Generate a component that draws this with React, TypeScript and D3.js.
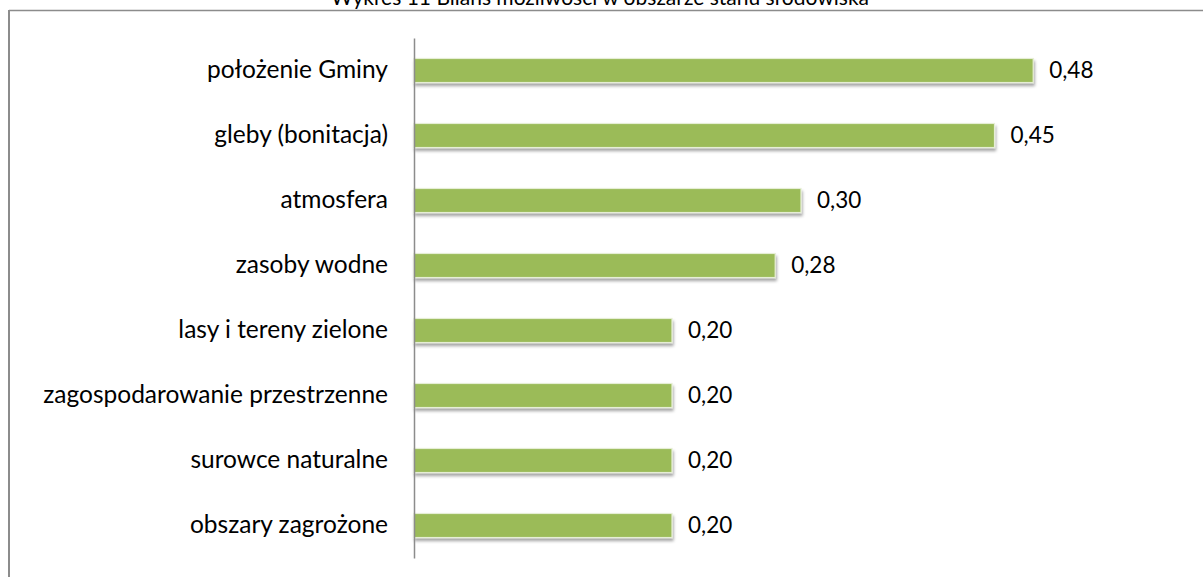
import { useEffect, useRef } from "react";
import * as d3 from "d3";

const title = "Wykres 11 Bilans możliwości w obszarze stanu środowiska";
const categories = [
  "położenie Gminy",
  "gleby (bonitacja)",
  "atmosfera",
  "zasoby wodne",
  "lasy i tereny zielone",
  "zagospodarowanie przestrzenne",
  "surowce naturalne",
  "obszary zagrożone",
];
const values = [0.48, 0.45, 0.3, 0.28, 0.2, 0.2, 0.2, 0.2];

const width = 1203;
const height = 577;
const font = "Lato, 'Open Sans', sans-serif";

export default function App() {
  const svgRef = useRef<SVGSVGElement>(null);

  useEffect(() => {
    if (!svgRef.current) return;
    const svg = d3.select(svgRef.current);
    svg.selectAll("*").remove();

    const x = d3.scaleLinear().domain([0, 0.6]).range([414, 1188]);
    const y = d3.scaleBand().domain(categories).range([38, 558]).paddingInner(0.63).paddingOuter(0.315);

    const defs = svg.append("defs");
    const f = defs.append("filter").attr("id", "shadow").attr("x", "-5%").attr("y", "-50%").attr("width", "110%").attr("height", "220%");
    f.append("feDropShadow").attr("dx", 1).attr("dy", 3).attr("stdDeviation", 1.5).attr("flood-color", "#000").attr("flood-opacity", 0.35);

    // frame (only top and left edges visible)
    svg.append("line").attr("x1", 9).attr("x2", width).attr("y1", 10.5).attr("y2", 10.5).attr("stroke", "#8c8c8c").attr("stroke-width", 1.5);
    svg.append("line").attr("x1", 9).attr("x2", 9).attr("y1", 10).attr("y2", height).attr("stroke", "#8c8c8c").attr("stroke-width", 2);

    // title, clipped at the top like the source
    svg
      .append("text")
      .attr("x", 600)
      .attr("y", 5)
      .attr("text-anchor", "middle")
      .attr("font-family", font)
      .attr("font-size", 21)
      .attr("fill", "#000")
      .text(title);

    // bars
    svg
      .append("g")
      .selectAll("rect")
      .data(values)
      .join("rect")
      .attr("x", x(0))
      .attr("y", (_, i) => y(categories[i])!)
      .attr("width", (d) => x(d) - x(0))
      .attr("height", y.bandwidth())
      .attr("fill", "#9bbb59")
      .attr("stroke", "#e6eed5")
      .attr("stroke-width", 1.2)
      .attr("filter", "url(#shadow)");

    // value labels
    svg
      .append("g")
      .selectAll("text")
      .data(values)
      .join("text")
      .attr("x", (d) => x(d) + 16)
      .attr("y", (_, i) => y(categories[i])! + y.bandwidth() / 2)
      .attr("dy", "0.35em")
      .attr("font-family", font)
      .attr("font-size", 22.5)
      .attr("fill", "#000")
      .text((d) => d3.format(".2f")(d).replace(".", ","));

    // category axis
    const axis = svg
      .append("g")
      .attr("transform", `translate(${x(0)},0)`)
      .call(d3.axisLeft(y).tickSize(0).tickPadding(26));
    axis.select(".domain").attr("stroke", "#8c8c8c").attr("stroke-width", 1.5);
    axis.selectAll("text").attr("font-family", font).attr("font-size", 24.5).attr("fill", "#000");
  }, []);

  return (
    <svg
      ref={svgRef}
      width={width}
      height={height}
      style={{ position: "absolute", left: 0, top: 0, background: "#fff" }}
    />
  );
}
